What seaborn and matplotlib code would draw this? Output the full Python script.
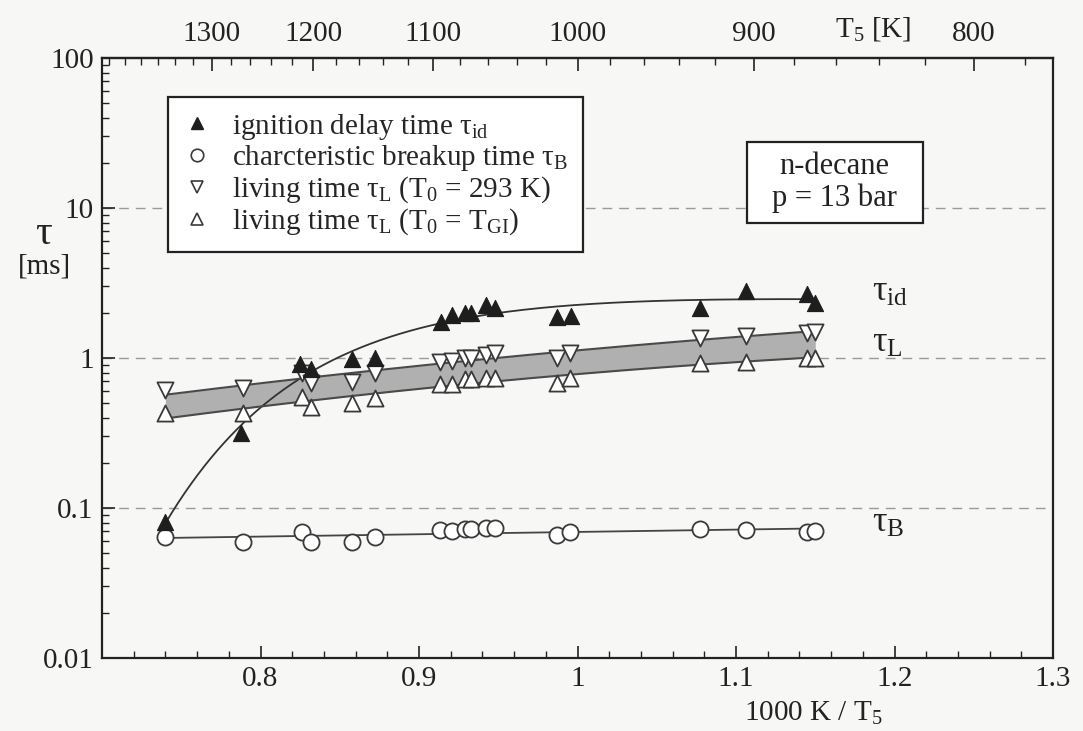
import numpy as np
import pandas as pd
import matplotlib
matplotlib.use("Agg")
import matplotlib.pyplot as plt
import seaborn as sns
from matplotlib.ticker import FixedLocator, FuncFormatter, NullFormatter
from matplotlib.lines import Line2D
from matplotlib.patches import Rectangle

# ---- measured values -------------------------------------------------------
# ignition delay time tau_id [ms] versus 1000 K / T5
x_id = [0.740, 0.788, 0.825, 0.832, 0.858, 0.872, 0.914, 0.921, 0.929,
        0.933, 0.942, 0.948, 0.987, 0.996, 1.077, 1.106, 1.145, 1.150]
tau_id = [0.081, 0.316, 0.91, 0.85, 0.98, 1.0, 1.74, 1.94, 2.0,
          2.0, 2.26, 2.15, 1.88, 1.91, 2.15, 2.8, 2.67, 2.33]

# characteristic breakup time tau_B and living times tau_L share the same runs
x_run = [0.740, 0.789, 0.826, 0.832, 0.858, 0.872, 0.913, 0.921, 0.929,
         0.933, 0.942, 0.948, 0.987, 0.995, 1.077, 1.106, 1.145, 1.150]
tau_B = [0.064, 0.059, 0.069, 0.059, 0.059, 0.064, 0.071, 0.070, 0.072,
         0.072, 0.074, 0.074, 0.066, 0.069, 0.072, 0.071, 0.069, 0.070]
tau_L293 = [0.61, 0.63, 0.79, 0.68, 0.69, 0.79, 0.94, 0.955, 1.0,
            1.0, 1.05, 1.08, 1.0, 1.08, 1.36, 1.40, 1.47, 1.50]
tau_LGI = [0.43, 0.43, 0.55, 0.47, 0.50, 0.54, 0.67, 0.67, 0.72,
           0.72, 0.74, 0.74, 0.68, 0.74, 0.93, 0.94, 1.0, 1.0]

# axis ticks
x_major = [0.8, 0.9, 1.0, 1.1, 1.2, 1.3]
y_major = [0.01, 0.1, 1, 10, 100]
T_major = [1300, 1200, 1100, 1000, 900, 800]

# ---- style -----------------------------------------------------------------
sns.set_theme(style="ticks")
plt.rcParams["font.family"] = ["Liberation Serif", "DejaVu Serif"]
plt.rcParams["mathtext.fontset"] = "custom"
plt.rcParams["mathtext.rm"] = "Liberation Serif"
plt.rcParams["mathtext.it"] = "Liberation Serif:italic"
plt.rcParams["axes.linewidth"] = 1.6

BG = "#f7f7f5"
INK = "#1e1e1e"
EDGE = "#3a3a3a"
TXT = "#222222"

fig = plt.figure(figsize=(10.83, 7.31), dpi=100, facecolor=BG)
ax = fig.add_axes([0.0942, 0.0999, 0.8781, 0.8208])
ax.set_facecolor(BG)
ax.set_yscale("log")
ax.set_xlim(0.7, 1.3)
ax.set_ylim(0.01, 100)

# dashed reference lines at decades
for yv in [0.1, 1, 10]:
    ax.axhline(yv, color="#9a9a9a", lw=1.0, ls=(0, (7, 5)), zorder=0.5)


# ---- fitted curves ----------------------------------------------------------
def poly_fit(x, y, deg, xs):
    c = np.polyfit(np.asarray(x), np.log10(np.asarray(y)), deg)
    return 10 ** np.polyval(c, xs)


def saturating_fit(x, y, xs):
    # log10(tau) = a + b*x + c*exp(-k*x), k chosen by least squares
    x = np.asarray(x)
    ly = np.log10(np.asarray(y))
    best = None
    for k in np.linspace(5, 60, 221):
        A = np.column_stack([np.ones_like(x), x, np.exp(-k * x)])
        coef, *_ = np.linalg.lstsq(A, ly, rcond=None)
        r = np.sum((A @ coef - ly) ** 2)
        if best is None or r < best[0]:
            best = (r, k, coef)
    _, k, coef = best
    return 10 ** (coef[0] + coef[1] * xs + coef[2] * np.exp(-k * xs))


xs = np.linspace(min(x_run), max(x_run), 200)
band_hi = poly_fit(x_run, tau_L293, 2, xs)
band_lo = poly_fit(x_run, tau_LGI, 2, xs)
ax.fill_between(xs, band_lo, band_hi, color="#b0b0b0", lw=0, zorder=1)

fits = pd.DataFrame({
    "x": np.concatenate([xs, xs, xs, xs]),
    "tau": np.concatenate([
        saturating_fit(x_id, tau_id, xs),
        poly_fit(x_run, tau_B, 1, xs),
        band_hi, band_lo]),
    "curve": np.repeat(["id", "B", "hi", "lo"], len(xs)),
})
sns.lineplot(data=fits[fits.curve == "id"], x="x", y="tau", color="#333333",
             lw=1.3, ax=ax, zorder=2, legend=False)
sns.lineplot(data=fits[fits.curve == "B"], x="x", y="tau", color="#444444",
             lw=1.3, ax=ax, zorder=2, legend=False)
for part in ["hi", "lo"]:
    sns.lineplot(data=fits[fits.curve == part], x="x", y="tau", color="#4a4a4a",
                 lw=1.5, ax=ax, zorder=2, legend=False)

# ---- measured points -------------------------------------------------------
MS = 135
sns.scatterplot(x=x_run, y=tau_L293, marker="v", s=MS, color="white",
                edgecolor=EDGE, linewidth=1.3, ax=ax, zorder=3)
sns.scatterplot(x=x_run, y=tau_LGI, marker="^", s=MS, color="white",
                edgecolor=EDGE, linewidth=1.3, ax=ax, zorder=3)
sns.scatterplot(x=x_run, y=tau_B, marker="o", s=MS, color="white",
                edgecolor=EDGE, linewidth=1.3, ax=ax, zorder=3)
sns.scatterplot(x=x_id, y=tau_id, marker="^", s=MS, color=INK,
                edgecolor=INK, linewidth=0.8, ax=ax, zorder=4)

# ---- axes, ticks -----------------------------------------------------------
fmt = FuncFormatter(lambda v, _: f"{v:g}")
ax.xaxis.set_major_locator(FixedLocator(x_major))
ax.xaxis.set_minor_locator(FixedLocator(np.arange(0.72, 1.3, 0.02)))
ax.xaxis.set_major_formatter(fmt)
ax.yaxis.set_major_locator(FixedLocator(y_major))
ax.yaxis.set_major_formatter(fmt)
ax.yaxis.set_minor_formatter(NullFormatter())
ax.tick_params(which="both", direction="in", colors=TXT,
               labelsize=21, top=False, right=False)
ax.tick_params(which="major", length=9, width=1.2, pad=6)
ax.tick_params(which="minor", length=5, width=1.0)
ax.set_xlabel("")
ax.set_ylabel("")

inv = lambda v: 1000.0 / np.where(np.abs(v) < 1e-9, 1e-9, v)
top = ax.secondary_xaxis("top", functions=(inv, inv))
top.xaxis.set_major_locator(FixedLocator(T_major))
top.xaxis.set_minor_locator(FixedLocator(np.arange(780, 1440, 20)))
top.xaxis.set_major_formatter(fmt)
top.tick_params(which="both", direction="in", labelsize=21, colors=TXT)
top.tick_params(which="major", length=9, width=1.2, pad=8)
top.tick_params(which="minor", length=5, width=1.0)

for s in ax.spines.values():
    s.set_color(TXT)

# axis titles
ax.text(0.811, 1.0 + 29 / 600, r"T$_{5}$ [K]", transform=ax.transAxes,
        ha="center", va="center", fontsize=21, color=TXT)
ax.text(0.748, -0.092, r"1000 K / T$_{5}$", transform=ax.transAxes,
        ha="center", va="center", fontsize=21, color=TXT)
fig.text(44 / 1083, 1 - 234 / 731, r"$\mathrm{\tau}$", ha="center",
         va="center", fontsize=30, color=TXT)
fig.text(44 / 1083, 1 - 267 / 731, "[ms]", ha="center", va="center",
         fontsize=21, color=TXT)

# curve labels on the right
for lab, yv in [(r"$\mathrm{\tau_{id}}$", 2.75), (r"$\mathrm{\tau_{L}}$", 1.25),
                (r"$\mathrm{\tau_{B}}$", 0.079)]:
    ax.text(1.186, yv, lab, ha="left", va="center", fontsize=26, color=TXT)

# condition box
ax.add_patch(Rectangle((0.678, 0.725), 0.185, 0.135, transform=ax.transAxes,
                       fc="white", ec=TXT, lw=1.6, zorder=5))
ax.text(0.7705, 0.7925, "n-decane\np = 13 bar", transform=ax.transAxes,
        ha="center", va="center", fontsize=22, color=TXT,
        linespacing=1.1, zorder=6)

# legend
handles = [
    Line2D([], [], ls="", marker="^", ms=9, mfc=INK, mec=INK),
    Line2D([], [], ls="", marker="o", ms=9, mfc="white", mec=EDGE, mew=1.2),
    Line2D([], [], ls="", marker="v", ms=9, mfc="white", mec=EDGE, mew=1.2),
    Line2D([], [], ls="", marker="^", ms=9, mfc="white", mec=EDGE, mew=1.2),
]
labels = [
    r"ignition delay time $\mathrm{\tau_{id}}$",
    r"charcteristic breakup time $\mathrm{\tau_{B}}$",
    r"living time $\mathrm{\tau_{L}}$ (T$_{0}$ = 293 K)",
    r"living time $\mathrm{\tau_{L}}$ (T$_{0}$ = T$_{\mathrm{GI}}$)",
]
leg = ax.legend(handles, labels, loc="upper left",
                bbox_to_anchor=(0.0694, 0.935), borderaxespad=0,
                fontsize=21, frameon=True, fancybox=False, framealpha=1,
                edgecolor=TXT, facecolor="white", handlelength=1.0,
                handletextpad=0.7, labelspacing=0.05, borderpad=0.5)
leg.get_frame().set_linewidth(1.6)
leg.set_zorder(6)

fig.savefig("out.png", dpi=100, facecolor=BG)
